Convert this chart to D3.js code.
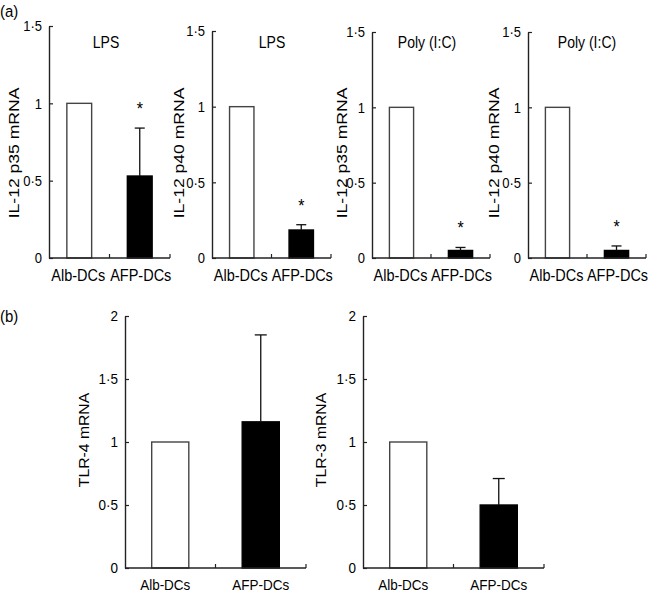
<!DOCTYPE html>
<html><head><meta charset="utf-8">
<script src="https://cdn.jsdelivr.net/npm/d3@7"></script>
<style>
body{margin:0;background:#fff;}
text{font-family:"Liberation Sans",Arial,Helvetica,sans-serif;fill:#000;}
</style></head>
<body>
<svg id="c" width="649" height="594"></svg>
<script>
// ---- data ----
const categories = ["Alb-DCs", "AFP-DCs"];
// panel (a)
const aTitles = ["LPS", "LPS", "Poly (I:C)", "Poly (I:C)"];
const aYLabels = ["IL-12 p35 mRNA", "IL-12 p40 mRNA", "IL-12 p35 mRNA", "IL-12 p40 mRNA"];
const aAlb = [1, 1, 1, 1];
const aAfp = [0.53, 0.185, 0.05, 0.05];
const aAfpErr = [0.31, 0.035, 0.02, 0.03];
const aSignif = [true, true, true, true];
const aTicks = [0, 0.5, 1, 1.5];
// panel (b)
const bYLabels = ["TLR-4 mRNA", "TLR-3 mRNA"];
const bAlb = [1, 1];
const bAfp = [1.16, 0.5];
const bAfpErr = [0.69, 0.21];
const bTicks = [0, 0.5, 1, 1.5, 2];

const SY = 1.14;
const svg = d3.select("#c");
const fmt = d => String(d).replace(".", "·");

function stext(parent, x, y, str, size, anchor, rot) {
  return parent.append("text")
    .attr("transform", `translate(${x},${y}) scale(1,${SY})` + (rot ? " rotate(-90)" : ""))
    .attr("text-anchor", anchor || "middle")
    .style("font-size", size + "px")
    .text(str);
}

function panel(o) {
  const g = svg.append("g");
  const y = d3.scaleLinear().domain([0, o.ymax]).range([o.bottom, o.top]);
  const x = d3.scaleBand().domain(categories).range([o.left, o.right]);
  const bw = x.bandwidth() * o.barFrac;
  const vals = [o.alb, o.afp];
  // bars
  g.selectAll("rect.bar").data(categories).enter().append("rect")
    .attr("x", d => x(d) + x.bandwidth() / 2 - bw / 2)
    .attr("y", (d, i) => y(vals[i]))
    .attr("width", bw)
    .attr("height", (d, i) => y(0) - y(vals[i]))
    .attr("fill", (d, i) => i === 0 ? "#fff" : "#000")
    .attr("stroke", (d, i) => i === 0 ? "#444" : "#000")
    .attr("stroke-width", 1.4);
  // error bar for AFP
  const cx = x(categories[1]) + x.bandwidth() / 2;
  const top = y(o.afp + o.err);
  g.append("line").attr("x1", cx).attr("x2", cx).attr("y1", y(o.afp)).attr("y2", top)
    .attr("stroke", "#111").attr("stroke-width", 1.3);
  g.append("line").attr("x1", cx - o.cap / 2).attr("x2", cx + o.cap / 2).attr("y1", top).attr("y2", top)
    .attr("stroke", "#111").attr("stroke-width", 1.3);
  if (o.star) {
    stext(g, cx, top - 13, "*", 16);
  }
  // y axis (ticks point inward)
  const ya = d3.axisLeft(y).tickValues(o.ticks).tickFormat(fmt)
    .tickSizeInner(-4).tickSizeOuter(0).tickPadding(o.tickPad);
  const yg = g.append("g").attr("transform", `translate(${o.left},0)`).call(ya);
  yg.attr("font-size", null).attr("font-family", null);
  yg.select(".domain").attr("stroke", "#222").attr("stroke-width", 1.4);
  yg.selectAll(".tick line").attr("stroke", "#222").attr("stroke-width", 1.2);
  yg.selectAll(".tick text").attr("transform", `scale(1,${SY})`)
    .style("font-size", o.tickFS + "px").attr("fill", "#000");
  // x axis
  g.append("line").attr("x1", o.left).attr("x2", o.right).attr("y1", o.bottom).attr("y2", o.bottom)
    .attr("stroke", "#222").attr("stroke-width", 1.4);
  const sep = [x(categories[1]), o.right];
  g.selectAll("line.sep").data(sep).enter().append("line")
    .attr("x1", d => d).attr("x2", d => d).attr("y1", o.bottom).attr("y2", o.bottom - 4)
    .attr("stroke", "#222").attr("stroke-width", 1.2);
  categories.forEach((c, i) => {
    stext(g, x(c) + x.bandwidth() / 2 + o.catShift[i], o.bottom + o.catDy, c, o.catFS);
  });
  // y label
  stext(g, o.ylabX, o.ylabY, o.ylabel, o.ylabFS, "middle", true)
    .attr("dominant-baseline", "central");
  if (o.title) {
    stext(g, o.titleX, 48, o.title, 14);
  }
}

const aGeom = [
  {left: 49, right: 170, top: 26, ylabX: 13, titleX: 106},
  {left: 212, right: 331, top: 31, ylabX: 178, titleX: 272},
  {left: 372, right: 490, top: 32, ylabX: 341, titleX: 427},
  {left: 528, right: 646, top: 32, ylabX: 493, titleX: 587}
];
aGeom.forEach((gm, i) => {
  panel({left: gm.left, right: gm.right, top: gm.top, bottom: 258, ymax: 1.5,
    alb: aAlb[i], afp: aAfp[i], err: aAfpErr[i], star: aSignif[i], ticks: aTicks,
    barFrac: 0.41, cap: 10, tickPad: 7, tickFS: 13,
    catFS: 14.5, catDy: 23, catShift: [-1, 1],
    ylabel: aYLabels[i], ylabFS: 15.4, ylabX: gm.ylabX, ylabY: 153,
    title: aTitles[i], titleX: gm.titleX});
});
const bGeom = [
  {left: 125, right: 306, ylabX: 84},
  {left: 363, right: 544, ylabX: 321}
];
bGeom.forEach((gm, i) => {
  panel({left: gm.left, right: gm.right, top: 316, bottom: 568, ymax: 2,
    alb: bAlb[i], afp: bAfp[i], err: bAfpErr[i], star: false, ticks: bTicks,
    barFrac: 0.41, cap: 12, tickPad: 7, tickFS: 13.5,
    catFS: 13.5, catDy: 22, catShift: [-5, 0],
    ylabel: bYLabels[i], ylabFS: 13.8, ylabX: gm.ylabX, ylabY: 440});
});
stext(svg, 0, 17, "(a)", 15, "start");
stext(svg, 0, 322, "(b)", 15, "start");
</script>
</body></html>
